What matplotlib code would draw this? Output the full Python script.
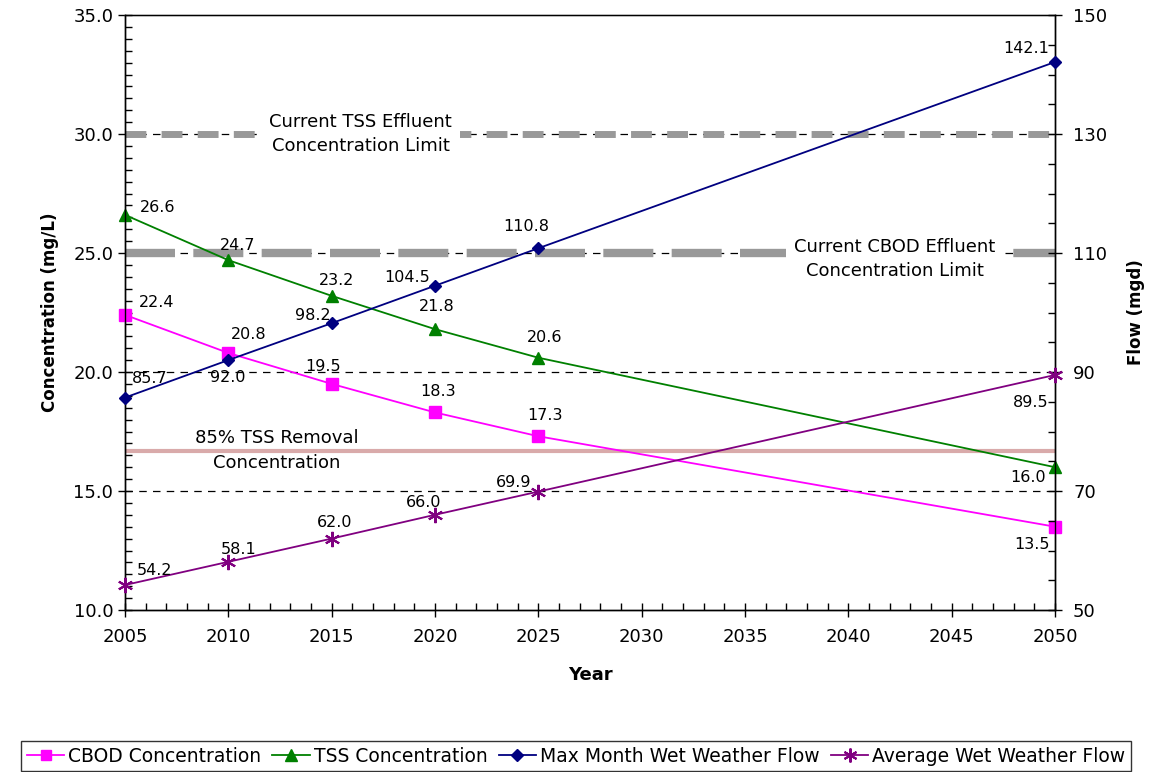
import matplotlib
matplotlib.use("Agg")
import matplotlib.pyplot as plt
from matplotlib.lines import Line2D
from matplotlib.ticker import MultipleLocator, FixedLocator, FormatStrFormatter

# ---- data -----------------------------------------------------------------
years = [2005, 2010, 2015, 2020, 2025, 2050]
cbod_conc = [22.4, 20.8, 19.5, 18.3, 17.3, 13.5]          # mg/L
tss_conc = [26.6, 24.7, 23.2, 21.8, 20.6, 16.0]           # mg/L
max_month_flow = [85.7, 92.0, 98.2, 104.5, 110.8, 142.1]  # mgd
avg_wet_flow = [54.2, 58.1, 62.0, 66.0, 69.9, 89.5]       # mgd

flow_ticks = [50, 70, 90, 110, 130, 150]

tss_limit = 30.0
cbod_limit = 25.0
tss_85_removal = 16.7

series_names = ["CBOD Concentration", "TSS Concentration",
                "Max Month Wet Weather Flow", "Average Wet Weather Flow"]

# label offsets (pixels) for the value labels of each series
cbod_offsets = [(32, 12), (20, 18), (-9, 17), (3, 21), (7, 21), (-23, -18)]
tss_offsets = [(33, 7), (9, 15), (5, 15), (2, 23), (6, 20), (-27, -10)]
max_offsets = [(25, 19), (-1, -17), (-19, 8), (-28, 8), (-12, 22), (-29, 14)]
avg_offsets = [(30, 15), (10, 12), (3, 16), (-11, 12), (-25, 9), (-24, -28)]

plt.rcParams["font.family"] = ["DejaVu Sans"]

fig = plt.figure(figsize=(11.49, 7.72), dpi=100)
W, H = 1149, 772
ax = fig.add_axes([125 / W, 1 - 610 / H, (1055 - 125) / W, (610 - 15) / H])
ax2 = ax.twinx()

# axes ranges / ticks
ax.set_xlim(2005, 2050)
ax.set_ylim(10, 35)
ax2.set_ylim(50, 150)
ax.xaxis.set_major_locator(MultipleLocator(5))
ax.xaxis.set_minor_locator(MultipleLocator(1))
ax.yaxis.set_major_locator(MultipleLocator(5))
ax.yaxis.set_minor_locator(MultipleLocator(0.5))
ax.yaxis.set_major_formatter(FormatStrFormatter("%.1f"))
ax2.yaxis.set_major_locator(FixedLocator(flow_ticks))
ax2.yaxis.set_minor_locator(MultipleLocator(5))

for a in (ax, ax2):
    a.tick_params(which="major", direction="inout", length=10, width=1, labelsize=13)
    a.tick_params(which="minor", direction="in", length=5, width=1)
    for s in a.spines.values():
        s.set_linewidth(1.0)
ax.tick_params(axis="x", pad=8)
ax2.tick_params(axis="y", pad=8)
ax.spines["top"].set_color("#888888")

# horizontal dashed grid on the concentration axis
for g in [15, 20, 25, 30]:
    ax.axhline(g, color="black", lw=0.9, ls=(0, (6, 5)), zorder=1)

# effluent limit lines
ax.axhline(tss_limit, color="#999999", lw=5, ls=(0, (3, 2.2)), zorder=2)
ax.axhline(cbod_limit, color="#999999", lw=6, ls=(0, (6, 2.2)), zorder=2)
# 85% TSS removal line
ax.axhline(tss_85_removal, color="#D9AAAA", lw=3, zorder=2)

# text annotations
ax.text(2016.4, tss_limit, "Current TSS Effluent\nConcentration Limit", ha="center",
        va="center", fontsize=13, linespacing=1.45, zorder=3,
        bbox=dict(facecolor="white", edgecolor="none", pad=6))
ax.text(2042.25, cbod_limit - 0.25, "Current CBOD Effluent\nConcentration Limit",
        ha="center", va="center", fontsize=13, linespacing=1.45, zorder=3,
        bbox=dict(facecolor="white", edgecolor="none", pad=6))
ax.text(2012.35, tss_85_removal, "85% TSS Removal\nConcentration", ha="center",
        va="center", fontsize=13, linespacing=1.5, zorder=3)

# data series
cbod_line, = ax.plot(years, cbod_conc, color="#FF00FF", marker="s", ms=8, lw=1.3,
                     zorder=5, clip_on=False)
tss_line, = ax.plot(years, tss_conc, color="#008000", marker="^", ms=9, lw=1.3,
                    zorder=5, clip_on=False)
max_line, = ax2.plot(years, max_month_flow, color="#000080", marker="D", ms=6.5,
                     lw=1.3, zorder=5, clip_on=False)
avg_line, = ax2.plot(years, avg_wet_flow, color="#800080", marker=(6, 2, 0), ms=11,
                     mew=1.5, lw=1.3, zorder=5, clip_on=False)


def label_series(axis, xs, ys, offsets):
    for x, y, (dx, dy) in zip(xs, ys, offsets):
        axis.annotate(f"{y:.1f}", (x, y), xytext=(dx, dy), textcoords="offset pixels",
                      ha="center", va="center", fontsize=11.5, zorder=6,
                      annotation_clip=False)


label_series(ax, years, cbod_conc, cbod_offsets)
label_series(ax, years, tss_conc, tss_offsets)
label_series(ax2, years, max_month_flow, max_offsets)
label_series(ax2, years, avg_wet_flow, avg_offsets)

# axis titles
ax.set_xlabel("Year", fontsize=13, fontweight="bold", labelpad=14)
ax.set_ylabel("Concentration (mg/L)", fontsize=12, fontweight="bold", labelpad=10)
ax2.set_ylabel("Flow (mgd)", fontsize=12, fontweight="bold", labelpad=14)

ax2.set_zorder(ax.get_zorder() + 1)
ax2.patch.set_visible(False)

# legend
handles = [
    Line2D([], [], color="#FF00FF", marker="s", ms=7, lw=1.3),
    Line2D([], [], color="#008000", marker="^", ms=8, lw=1.3),
    Line2D([], [], color="#000080", marker="D", ms=6, lw=1.3),
    Line2D([], [], color="#800080", marker=(6, 2, 0), ms=10, mew=1.5, lw=1.3),
]
leg = fig.legend(handles, series_names, loc="center", ncol=4,
                 bbox_to_anchor=(576 / W, 1 - 756 / H), fontsize=13.5,
                 frameon=True, fancybox=False, edgecolor="black",
                 handlelength=2.0, handletextpad=0.2, columnspacing=0.6,
                 borderpad=0.3, borderaxespad=0.2)
leg.get_frame().set_linewidth(1.0)

fig.savefig("out.png", dpi=100)
